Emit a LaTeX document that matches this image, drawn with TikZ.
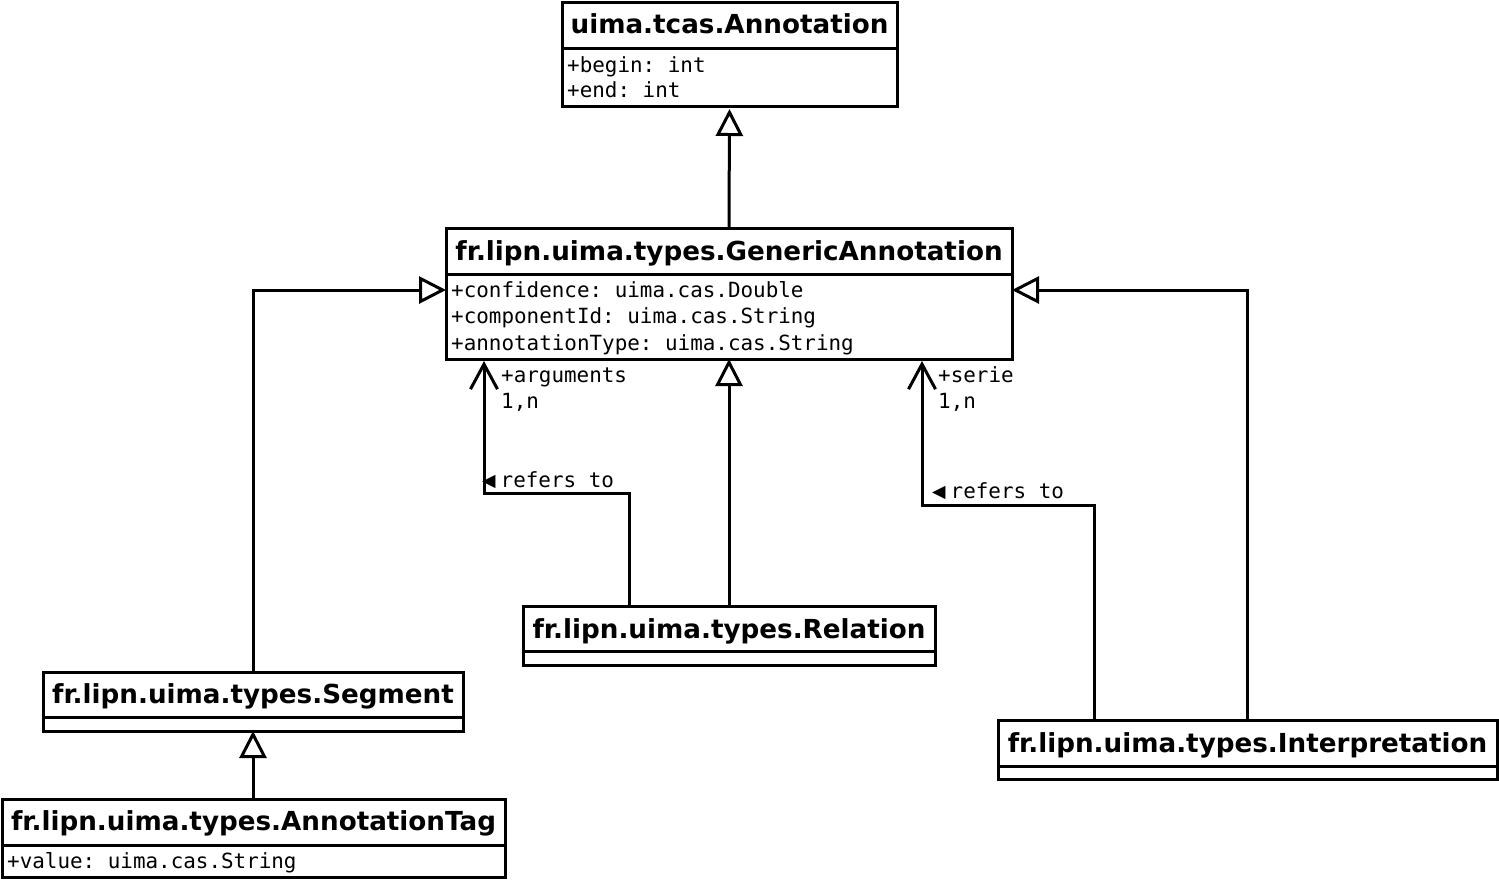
\documentclass[tikz,border=0pt]{standalone}
\usepackage{fontspec}
\setmainfont{DejaVu Sans}
\setmonofont{DejaVu Sans Mono}
\usetikzlibrary{arrows.meta}
\newcommand{\lefttri}{\makebox[18.5pt][l]{\raisebox{0.5pt}{\fontsize{17.5}{17.5}\selectfont\rmfamily ◀}}}
\begin{document}
\begin{tikzpicture}[x=1pt,y=-1pt,
  cls/.style={draw,line width=3pt,inner sep=0pt,outer sep=0pt,anchor=north west,rectangle},
  ttl/.style={font=\fontsize{26.2}{30}\selectfont\bfseries,anchor=base,inner sep=0pt},
  attr/.style={font=\fontsize{20.9}{26}\selectfont\ttfamily,anchor=base west,inner sep=0pt},
  sep/.style={line width=3pt},
  gen/.style={line width=3pt,-{Triangle[open,length=27pt,width=27pt]}},
  assoc/.style={line width=3pt,-{Straight Barb[length=25pt,width=27pt]}}
]
\useasboundingbox (0,0) rectangle (1499,879);
% classes
\node[cls,minimum width=335pt,minimum height=104pt] (ann) at (562,2) {};
\node[cls,minimum width=566pt,minimum height=131pt] (ga) at (446,228) {};
\node[cls,minimum width=420pt,minimum height=59pt] (seg) at (43,672) {};
\node[cls,minimum width=503pt,minimum height=78pt] (tag) at (2,799) {};
\node[cls,minimum width=412pt,minimum height=59pt] (rel) at (523,606) {};
\node[cls,minimum width=499pt,minimum height=59pt] (int) at (998,720) {};
% separators
\draw[sep] (ann.west |- 0,48) -- (ann.east |- 0,48);
\draw[sep] (ga.west |- 0,274) -- (ga.east |- 0,274);
\draw[sep] (seg.west |- 0,717) -- (seg.east |- 0,717);
\draw[sep] (tag.west |- 0,845) -- (tag.east |- 0,845);
\draw[sep] (rel.west |- 0,651) -- (rel.east |- 0,651);
\draw[sep] (int.west |- 0,766) -- (int.east |- 0,766);
% titles
\node[ttl] (annT) at (729.5,33) {uima.tcas.Annotation};
\node[ttl] (gaT) at (729,260) {fr.lipn.uima.types.GenericAnnotation};
\node[ttl] (segT) at (253,703) {fr.lipn.uima.types.Segment};
\node[ttl] (tagT) at (253.5,830) {fr.lipn.uima.types.AnnotationTag};
\node[ttl] (relT) at (729,638) {fr.lipn.uima.types.Relation};
\node[ttl] (intT) at (1247.5,752) {fr.lipn.uima.types.Interpretation};
% attributes
\node[attr] (a1) at (567,72) {+begin: int};
\node[attr] (a2) at (567,97) {+end: int};
\node[attr] (g1) at (451,297.5) {+confidence: uima.cas.Double};
\node[attr] (g2) at (451,323.5) {+componentId: uima.cas.String};
\node[attr] (g3) at (451,350) {+annotationType: uima.cas.String};
\node[attr] (t1) at (7,868) {+value: uima.cas.String};
% generalizations
\draw[gen] (ga.north) -- ([yshift=-3pt]ann.south);
\draw[gen] (seg.north) |- (ga.west |- 0,290);
\draw[gen] (tag.north -| seg.north) -- (seg.south);
\draw[gen] (rel.north) -- (ga.south);
\draw[gen] (int.north) |- (ga.east |- 0,290);
% associations
\draw[assoc] (rel.north -| 629,0) |- (484,493) -- ([yshift=-2pt]ga.south -| 484,0);
\draw[assoc] (int.north -| 1094,0) |- (922,505) -- ([yshift=-2pt]ga.south -| 922,0);
% labels
\node[attr] (l1) at (501,382) {+arguments};
\node[attr] (l2) at (501,408) {1,n};
\node[attr] (l3) at (482,487) {\lefttri refers to};
\node[attr] (l4) at (938,382) {+serie};
\node[attr] (l5) at (938,408) {1,n};
\node[attr] (l6) at (932,498) {\lefttri refers to};
\end{tikzpicture}
\end{document}
